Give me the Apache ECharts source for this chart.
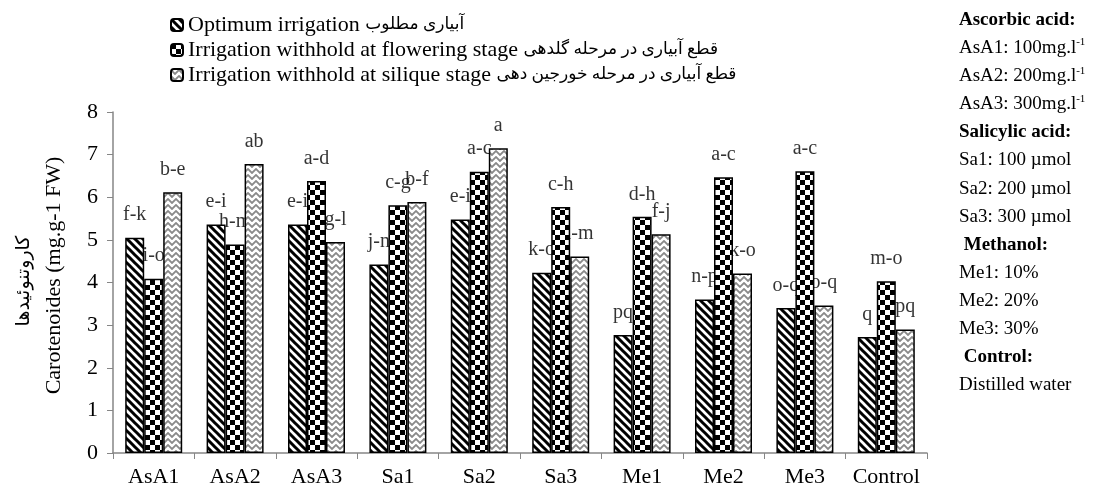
<!DOCTYPE html>
<html><head><meta charset="utf-8">
<script src="https://cdn.jsdelivr.net/npm/echarts@6/dist/echarts.min.js"></script>
<style>html,body{margin:0;padding:0;background:#fff}#c{width:1094px;height:489px}</style>
</head><body><div id="c"></div>
<script>
const categories = ['AsA1','AsA2','AsA3','Sa1','Sa2','Sa3','Me1','Me2','Me3','Control'];
const optimum   = [5.05, 5.36, 5.36, 4.42, 5.48, 4.23, 2.77, 3.60, 3.40, 2.72];
const flowering = [4.09, 4.89, 6.38, 5.81, 6.60, 5.77, 5.54, 6.47, 6.61, 4.03];
const silique   = [6.12, 6.78, 4.95, 5.89, 7.15, 4.61, 5.13, 4.21, 3.46, 2.90];
const optimumLetters   = ['f-k','e-i','e-i','j-n','e-i','k-o','pq','n-p','o-q','q'];
const floweringLetters = ['i-o','h-m','a-d','c-g','a-c','c-h','d-h','a-c','a-c','m-o'];
const siliqueLetters   = ['b-e','ab','g-l','b-f','a','i-m','f-j','k-o','o-q','pq'];
const seriesNamesEn = [
  'Optimum irrigation',
  'Irrigation withhold at flowering stage',
  'Irrigation withhold at silique stage'
];
const seriesNamesFa = [
  'آبیاری مطلوب',
  'قطع آبیاری در مرحله گلدهی',
  'قطع آبیاری در مرحله خورجین دهی'
];
const yMin = 0, yMax = 8, yInterval = 1;
const yName = 'Carotenoides (mg.g-1 FW)';
const yNameFa = 'کاروتنوئیدها';
const noteLines = [
  '{b|Ascorbic acid:}',
  '{n|AsA1: 100mg.l}{s|-1}',
  '{n|AsA2: 200mg.l}{s|-1}',
  '{n|AsA3: 300mg.l}{s|-1}',
  '{b|Salicylic acid:}',
  '{n|Sa1: 100 µmol}',
  '{n|Sa2: 200 µmol}',
  '{n|Sa3: 300 µmol}',
  '{b| Methanol:}',
  '{n|Me1: 10%}',
  '{n|Me2: 20%}',
  '{n|Me3: 30%}',
  '{b| Control:}',
  '{n|Distilled water}'
];

function makeCanvas(w, h, draw) {
  const c = document.createElement('canvas');
  c.width = w; c.height = h;
  const g = c.getContext('2d');
  g.fillStyle = '#fff'; g.fillRect(0, 0, w, h);
  draw(g);
  return c;
}
const stripe = makeCanvas(8, 8, g => {
  g.strokeStyle = '#000'; g.lineWidth = 3; g.beginPath();
  g.moveTo(-2, -2); g.lineTo(10, 10);
  g.moveTo(6, -2); g.lineTo(10, 2);
  g.moveTo(-2, 6); g.lineTo(2, 10);
  g.stroke();
});
const checker = makeCanvas(10, 10, g => {
  g.fillStyle = '#000'; g.fillRect(0, 0, 5, 5); g.fillRect(5, 5, 5, 5);
});
const zigzag = makeCanvas(8, 6, g => {
  g.strokeStyle = '#8a8a8a'; g.lineWidth = 1.8; g.beginPath();
  g.moveTo(-1, 0); g.lineTo(4, 5); g.lineTo(9, 0);
  g.stroke();
});
const patterns = [stripe, checker, zigzag];
const values = [optimum, flowering, silique];
const letters = [optimumLetters, floweringLetters, siliqueLetters];
const font = 'Liberation Serif';
const BW = 19;

const series = [];
values.forEach((vals, i) => {
  series.push({
    type: 'bar', name: seriesNamesEn[i], data: vals, barWidth: BW, barGap: '0%',
    z: 3, silent: true,
    itemStyle: { color: { image: patterns[i], repeat: 'repeat' }, borderColor: '#000', borderWidth: 1.5 }
  });
});
values.forEach((vals, i) => {
  series.push({
    type: 'scatter', data: vals, symbolSize: 1, z: 1, silent: true,
    itemStyle: { color: 'rgba(0,0,0,0)' },
    label: {
      show: true, position: 'top', distance: 12, offset: [(i - 1) * BW, 0],
      formatter: p => letters[i][p.dataIndex],
      color: '#000', fontSize: 20, fontFamily: font
    }
  });
});

const graphic = [{
  type: 'text', x: 24, y: 281, rotation: Math.PI / 2,
  style: { text: yNameFa, font: '19px "Liberation Serif", "DejaVu Sans"', fill: '#000', align: 'center', verticalAlign: 'middle' }
}];
noteLines.forEach((t, i) => {
  graphic.push({
    type: 'text', x: 959, y: 20 + 28.1 * i,
    style: {
      text: t, verticalAlign: 'middle', align: 'left',
      rich: {
        b: { fontFamily: font, fontSize: 19, fontWeight: 'bold', fill: '#000', lineHeight: 22 },
        n: { fontFamily: font, fontSize: 19, fill: '#000', lineHeight: 22 },
        s: { fontFamily: font, fontSize: 11, fill: '#000', lineHeight: 22, verticalAlign: 'top' }
      }
    }
  });
});

const chart = echarts.init(document.getElementById('c'), null, { renderer: 'canvas' });
chart.setOption({
  animation: false,
  backgroundColor: '#fff',
  grid: { left: 113, right: 167, top: 112, bottom: 36 },
  legend: {
    data: seriesNamesEn, orient: 'vertical', left: 165, top: 9,
    itemWidth: 12, itemHeight: 12, itemGap: 3, selectedMode: false,
    formatter: name => {
      const i = seriesNamesEn.indexOf(name);
      return '{e|' + name + '} {f|' + seriesNamesFa[i] + '}';
    },
    textStyle: {
      fontFamily: font, fontSize: 22, color: '#000',
      rich: {
        e: { fontFamily: font, fontSize: 22, color: '#000', lineHeight: 22 },
        f: { fontFamily: '"Liberation Serif", "DejaVu Sans"', fontSize: 17, color: '#000', lineHeight: 22 }
      }
    }
  },
  xAxis: {
    type: 'category', data: categories,
    axisLine: { lineStyle: { color: '#868686', width: 1.5 } },
    axisTick: { show: true, length: 6, lineStyle: { color: '#868686' } },
    axisLabel: { color: '#000', fontSize: 22, fontFamily: font, margin: 13, interval: 0 }
  },
  yAxis: {
    type: 'value', min: yMin, max: yMax, interval: yInterval,
    axisLine: { show: true, lineStyle: { color: '#868686', width: 1.5 } },
    axisTick: { show: true, length: 6, lineStyle: { color: '#868686' } },
    splitLine: { show: false },
    axisLabel: { color: '#000', fontSize: 22, fontFamily: font, margin: 15 },
    name: yName, nameLocation: 'middle', nameGap: 48,
    nameTextStyle: { color: '#000', fontSize: 22, fontFamily: font, padding: [0, 0, 0, 14] }
  },
  graphic: graphic,
  series: series
});
</script></body></html>
